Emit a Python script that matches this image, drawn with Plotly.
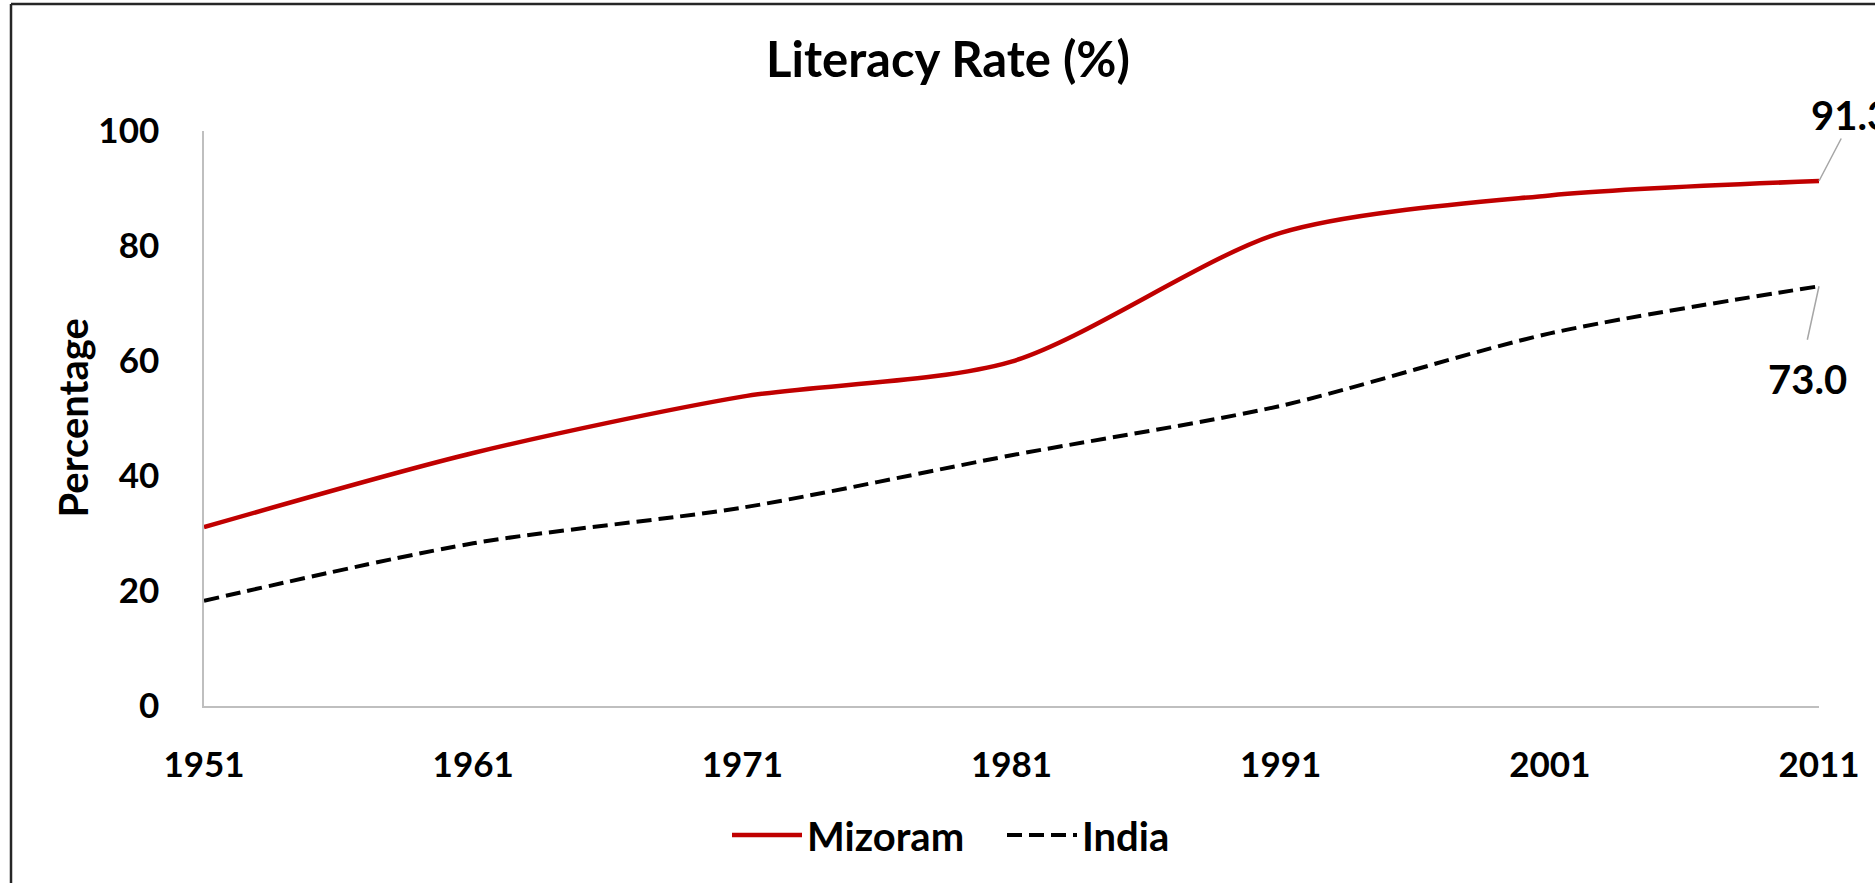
import plotly.graph_objects as go

years = [1951, 1961, 1971, 1981, 1991, 2001, 2011]
mizoram = [31.1, 44.0, 53.8, 59.9, 82.3, 88.8, 91.3]
india = [18.3, 28.3, 34.5, 43.6, 52.2, 64.8, 73.0]
y_ticks = [0, 20, 40, 60, 80, 100]

W, H = 1875, 883
ML, MR, MT, MB = 204, 56, 131, 177
PW = W - ML - MR
PH = H - MT - MB

FONT = "Lato"

fig = go.Figure()
fig.add_trace(go.Scatter(
    x=years, y=mizoram, name="Mizoram", mode="lines",
    line=dict(color="#C00000", width=4.5, shape="spline", smoothing=0.8),
))
fig.add_trace(go.Scatter(
    x=years, y=india, name="India", mode="lines",
    line=dict(color="#000000", width=4, dash="15px,7px", shape="spline", smoothing=0.8),
))

# data labels for last points
lab_font = dict(family=FONT, size=40, color="#000000", weight="bold")
fig.add_annotation(x=years[-1], y=mizoram[-1], text="", showarrow=True,
                   arrowhead=0, arrowwidth=1.5, arrowcolor="#A6A6A6",
                   ax=23, ay=-44, axref="pixel", ayref="pixel")
fig.add_annotation(x=years[-1], y=mizoram[-1], text=f"{mizoram[-1]:.1f}", showarrow=False,
                   xshift=31, yshift=66, font=lab_font)
fig.add_annotation(x=years[-1], y=india[-1], text="", showarrow=True,
                   arrowhead=0, arrowwidth=1.5, arrowcolor="#A6A6A6",
                   ax=-12, ay=55, axref="pixel", ayref="pixel")
fig.add_annotation(x=years[-1], y=india[-1], text=f"{india[-1]:.1f}", showarrow=False,
                   xshift=-12, yshift=-93, font=lab_font)

# y-axis title
fig.add_annotation(xref="paper", yref="paper", x=(72 - ML) / PW, y=0.5,
                   xanchor="center", yanchor="middle",
                   text="Percentage", textangle=-90, showarrow=False,
                   font=dict(family=FONT, size=40, color="#000000", weight="bold"))

# outer border (top and left visible in the crop)
xl = (11 - ML) / PW
yt = (H - MB - 4) / PH
fig.add_shape(type="line", xref="paper", yref="paper", x0=xl, x1=1.5, y0=yt, y1=yt,
              line=dict(color="#262626", width=2.5))
fig.add_shape(type="line", xref="paper", yref="paper", x0=xl, x1=xl, y0=-1, y1=yt,
              line=dict(color="#262626", width=2.5))

fig.update_layout(
    width=W, height=H,
    margin=dict(l=ML, r=MR, t=MT, b=MB, autoexpand=False),
    paper_bgcolor="white", plot_bgcolor="white",
    title=dict(text="Literacy Rate (%)", x=948 / W, xanchor="center",
               y=1 - 60 / H, yanchor="middle", yref="container",
               font=dict(family=FONT, size=49, color="#000000", weight="bold")),
    xaxis=dict(range=[years[0], years[-1]], tickvals=years, ticktext=[str(y) for y in years],
               showgrid=False, zeroline=False, showline=True, linecolor="#BFBFBF", linewidth=1.5,
               ticks="", ticklabelstandoff=27,
               tickfont=dict(family=FONT, size=35, color="#000000", weight="bold")),
    yaxis=dict(range=[0, 100], tickvals=y_ticks, showgrid=False, zeroline=False,
               showline=True, linecolor="#BFBFBF", linewidth=1.5, ticks="",
               ticklabelstandoff=36,
               tickfont=dict(family=FONT, size=35, color="#000000", weight="bold")),
    legend=dict(orientation="h", x=(1002 - ML) / PW, xanchor="center",
                y=(H - MB - 835) / PH, yanchor="middle",
                font=dict(family=FONT, size=40, color="#000000", weight="bold"),
                itemwidth=70, entrywidth=190, bgcolor="rgba(0,0,0,0)"),
    showlegend=True,
)

fig.write_html("out.html", config={"displayModeBar": False},
               post_script="document.body.style.margin='0';document.body.style.overflow='hidden';")
